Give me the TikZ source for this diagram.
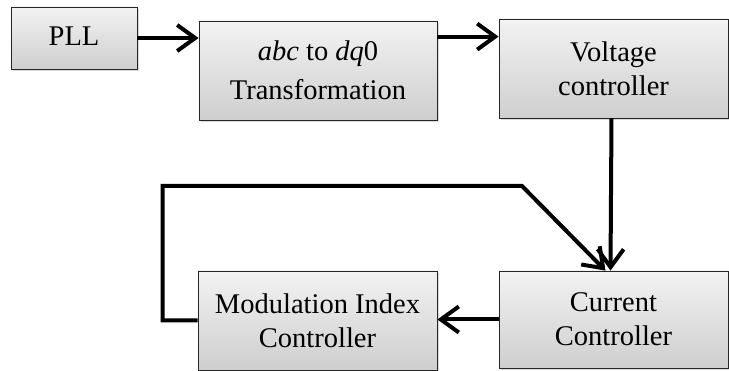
\documentclass[tikz,border=0pt]{standalone}
\usepackage{fontspec}
\setmainfont{Liberation Serif}
\usetikzlibrary{arrows.meta,shadows,calc}
\begin{document}
\begin{tikzpicture}[x=1pt,y=1pt,
  blk/.style={draw=black!85, line width=0.8pt, top color=gray!10, bottom color=gray!38,
    drop shadow={opacity=0.3, shadow xshift=2pt, shadow yshift=-2.5pt},
    inner sep=0pt, align=center, font=\fontsize{28.5}{34}\selectfont},
  arr/.style={line width=4pt, -{Straight Barb[length=18pt,width=26pt,line width=4pt]}},
  link/.style={line width=4pt}]
\useasboundingbox (0,0) rectangle (729,-371);
\node[blk, minimum width=126pt, minimum height=62pt] (pll) at (74,-38) {\raisebox{4.5pt}{PLL}};
\node[blk, minimum width=238pt, minimum height=99pt] (abc) at (318,-70.5) {\textit{abc} to \textit{dq}0\\[5pt]Transformation};
\node[blk, minimum width=229pt, minimum height=99pt] (volt) at (613.5,-68.5) {Voltage\\controller};
\node[blk, minimum width=229pt, minimum height=97pt] (cur) at (613.5,-319.5) {Current\\Controller};
\node[blk, minimum width=239pt, minimum height=99pt] (mod) at (317.5,-320.5) {Modulation Index\\Controller};
\coordinate (av) at ([yshift=-18pt]volt.north west);
\coordinate (bend) at (522,-186);
\coordinate (left) at ([xshift=-35pt]mod.west);
\draw[arr] (pll.east) -- (pll.east -| abc.west);
\draw[arr] (abc.east |- av) -- (av);
\draw[arr] ([xshift=-2pt]volt.south) -- ([xshift=-3pt]cur.north);
\draw[arr] (cur.west) -- (cur.west -| mod.east);
\draw[arr] (mod.west) -- (left) |- (bend) -- ([xshift=-8pt]cur.north);
\end{tikzpicture}
\end{document}
